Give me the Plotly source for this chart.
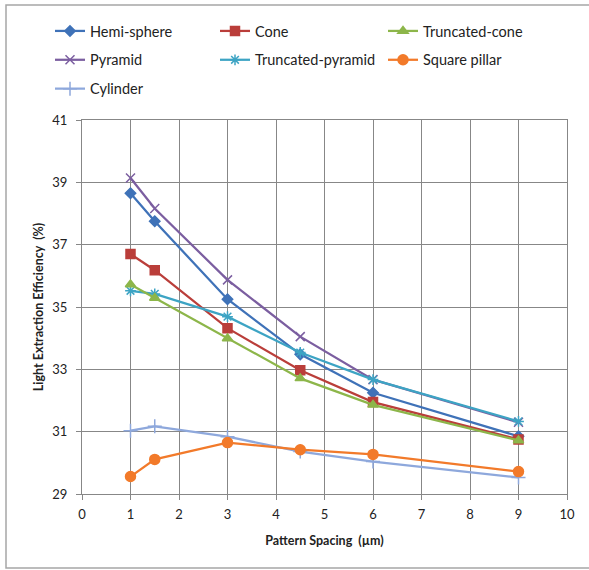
import plotly.graph_objects as go

x_spacing = [1, 1.5, 3, 4.5, 6, 9]
hemi_sphere = [38.65, 37.75, 35.25, 33.48, 32.25, 30.85]
cone = [36.70, 36.18, 34.32, 32.97, 31.95, 30.75]
truncated_cone = [35.72, 35.29, 33.99, 32.71, 31.86, 30.72]
pyramid = [39.14, 38.16, 35.87, 34.05, 32.67, 31.30]
truncated_pyramid = [35.52, 35.42, 34.69, 33.54, 32.67, 31.33]
square_pillar = [29.56, 30.11, 30.65, 30.42, 30.27, 29.72]
cylinder = [31.03, 31.17, 30.84, 30.36, 30.04, 29.53]

series = [
    ("Hemi-sphere", hemi_sphere, "#3F72B8", "diamond", 8, "legend"),
    ("Pyramid", pyramid, "#7B5EA0", "x-thin-open", 9, "legend"),
    ("Cylinder", cylinder, "#8EA8DC", "cross-thin-open", 10, "legend"),
    ("Cone", cone, "#BA3E3A", "square", 9, "legend2"),
    ("Truncated-pyramid", truncated_pyramid, "#3DA4C4", "asterisk-open", 9, "legend2"),
    ("Truncated-cone", truncated_cone, "#8DB64A", "triangle-up", 9, "legend3"),
    ("Square pillar", square_pillar, "#F27A2A", "circle", 10, "legend3"),
]

font_fam = "Lato, Open Sans, sans-serif"
fig = go.Figure()
for i, (name, vals, col, sym, sz, lg) in enumerate(series):
    fig.add_trace(go.Scatter(
        x=x_spacing, y=vals, name=name, mode="lines+markers",
        line=dict(color=col, width=2.25),
        marker=dict(symbol=sym, size=sz, color=col, line=dict(color=col, width=1.5)),
        legend=lg, legendgroup=name,
    ))

W, H = 589, 570
L, R, T, B = 82, 22, 120, 76
PW, PH = W - L - R, H - T - B

def lx(px):
    return (px - L) / PW

def ly(py):
    return (H - B - py) / PH

leg_common = dict(font=dict(family=font_fam, size=14.5, color="#222"),
                  bgcolor="rgba(0,0,0,0)", tracegroupgap=7,
                  xanchor="left", yanchor="top",
                  orientation="v", itemwidth=30)
layout_legends = {
    "legend": dict(x=lx(50), y=ly(15), **leg_common),
    "legend2": dict(x=lx(215), y=ly(15), **leg_common),
    "legend3": dict(x=lx(383), y=ly(15), **leg_common),
}

grid = "#878787"
fig.update_layout(
    width=W, height=H,
    margin=dict(l=L, r=R, t=T, b=B, autoexpand=False),
    paper_bgcolor="white", plot_bgcolor="white",
    font=dict(family=font_fam, size=13, color="#222"),
    showlegend=True,
    **layout_legends,
    xaxis=dict(range=[0, 10], dtick=1, tick0=0, showgrid=True, gridcolor=grid, gridwidth=1,
               showline=True, linecolor=grid, linewidth=1, mirror=True, automargin=False,
               ticks="outside", ticklen=5, tickcolor=grid, zeroline=False, ticklabelstandoff=3,
               title=dict(text="<b>Pattern Spacing  (µm)</b>", font=dict(size=12.5), standoff=15)),
    yaxis=dict(range=[29, 41], dtick=2, tick0=29, showgrid=True, gridcolor=grid, gridwidth=1,
               showline=True, linecolor=grid, linewidth=1, mirror=True, automargin=False,
               ticks="outside", ticklen=5, tickcolor=grid, zeroline=False, ticklabelstandoff=6,
               title=dict(text="<b>Light Extraction Efficiency  (%)</b>", font=dict(size=12.5), standoff=5)),
    shapes=[dict(type="rect", xref="paper", yref="paper",
                 x0=lx(6), x1=lx(592), y0=ly(568), y1=ly(5),
                 line=dict(color="#A6A6A6", width=1.5), fillcolor="rgba(0,0,0,0)", layer="below")],
)

fig.write_html("out.html", config={"displayModeBar": False},
               post_script="document.body.style.margin='0px';document.body.style.overflow='hidden';")
